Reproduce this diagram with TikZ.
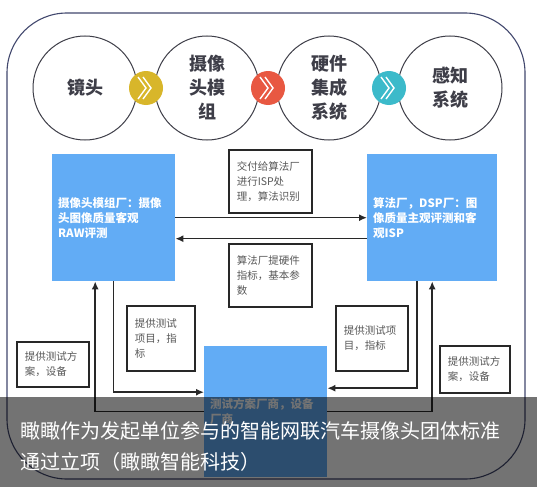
\documentclass[tikz,border=0pt]{standalone}
\usepackage{fontspec}
\setmainfont{Noto Sans CJK SC}
\usetikzlibrary{arrows.meta, positioning, calc}

\definecolor{boxblue}{RGB}{98,172,245}
\definecolor{ringgray}{RGB}{62,62,72}
\definecolor{chevyellow}{RGB}{216,182,42}
\definecolor{chevred}{RGB}{232,88,66}
\definecolor{chevcyan}{RGB}{60,186,202}
\definecolor{framecol}{RGB}{66,72,110}
\definecolor{linecol}{RGB}{40,40,40}
\definecolor{notegray}{RGB}{88,88,88}

\begin{document}
\begin{tikzpicture}[
    x=1pt, y=-1pt,
    stage/.style={
        circle,
        draw=ringgray,
        line width=1pt,
        minimum size=104pt,
        inner sep=0pt,
        align=center,
        text=ringgray,
        font=\fontsize{18}{24}\selectfont\bfseries
    },
    joint/.style={
        circle,
        fill=#1,
        minimum size=34pt,
        inner sep=0pt
    },
    chev/.style={
        white,
        line width=1.4pt
    },
    party/.style={
        fill=boxblue,
        anchor=north west,
        inner xsep=6pt,
        inner ysep=0pt,
        align=left,
        text=white,
        font=\fontsize{11.5}{15}\selectfont\bfseries
    },
    note/.style={
        draw=linecol,
        line width=1.5pt,
        anchor=north west,
        inner xsep=8pt,
        inner ysep=0pt,
        align=left,
        text=notegray,
        font=\fontsize{10.5}{15}\selectfont
    },
    msg/.style={
        -{Latex[length=8pt,width=7pt]},
        draw=linecol,
        line width=1.5pt
    }
]

\useasboundingbox[fill=white] (0,0) rectangle (537,487);

% --- OUTER FRAME ----------------------------------------------

\draw[framecol, line width=1.1pt, rounded corners=60pt] (7,13) rectangle (525,479);

% --- STAGE CIRCLES --------------------------------------------

\node[stage] (lens)   at (85,88)  {镜头};
\node[stage] (module) at (207,88) {摄像\\头模\\组};
\node[stage] (system) at (329,88) {硬件\\集成\\系统};
\node[stage] (sense)  at (450,88) {感知\\系统};

\node[joint=chevyellow] (j1) at (146,88) {};
\node[joint=chevred]    (j2) at (268,88) {};
\node[joint=chevcyan]   (j3) at (389,88) {};

\foreach \j in {j1,j2,j3}
    \foreach \dx in {-4,1}
        \draw[chev] ([shift={(\dx-4,-11)}]\j.center) -- ([shift={(\dx+4,0)}]\j.center)
                    -- ([shift={(\dx-4,11)}]\j.center);

% --- PARTY BOXES ----------------------------------------------

\node[party, text width=111pt, minimum height=127pt] (camera) at (52,154)
    {摄像头模组厂：摄像\\头图像质量客观\\RAW评测};
\node[party, text width=118pt, minimum height=127pt] (algo) at (367,154)
    {算法厂，DSP厂：图\\像质量主观评测和客\\观ISP};
\node[party, text width=111pt, minimum height=131pt] (test) at (204,346)
    {测试方案厂商，设备\\厂商};

% --- NOTES ----------------------------------------------------

\node[note, text width=67pt, minimum height=63pt] (handover) at (228,149)
    {交付给算法厂\\进行ISP处\\理，算法识别};
\node[note, text width=67pt, minimum height=63pt] (hwspec) at (228,243)
    {算法厂提硬件\\指标，基本参\\数};
\node[note, text width=52pt, minimum height=65pt] (itemsL) at (126,305)
    {提供测试\\项目，指\\标};
\node[note, text width=56pt, minimum height=65pt] (itemsR) at (335,305)
    {提供测试项\\目，指标};
\node[note, text width=56pt, minimum height=45pt] (planL) at (16,341)
    {提供测试方\\案，设备};
\node[note, text width=54pt, minimum height=47pt] (planR) at (439,345)
    {提供测试方\\案，设备};

% --- FLOWS ----------------------------------------------------

\draw[msg] (camera.east) -- (algo.west);
\draw[msg] ([yshift=-21pt]algo.west) -- ([yshift=-21pt]camera.east);

\draw[msg] (camera.south) |- ([yshift=19.5pt]test.west);
\draw[msg] (test.west) -| ([xshift=-18.5pt]camera.south);

\draw[msg] ([xshift=-15pt]algo.south) |- ([yshift=23.5pt]test.east);
\draw[msg] (test.east) -| (algo.south);

% --- CAPTION OVERLAY ------------------------------------------

\fill[black, opacity=0.55] (0,397) rectangle (537,487);
\node[anchor=west, inner sep=0pt, align=left, text=white,
      font=\fontsize{20}{31}\selectfont] (caption) at (20,446)
    {瞰瞰作为发起单位参与的智能网联汽车摄像头团体标准\\通过立项（瞰瞰智能科技）};

\end{tikzpicture}
\end{document}
